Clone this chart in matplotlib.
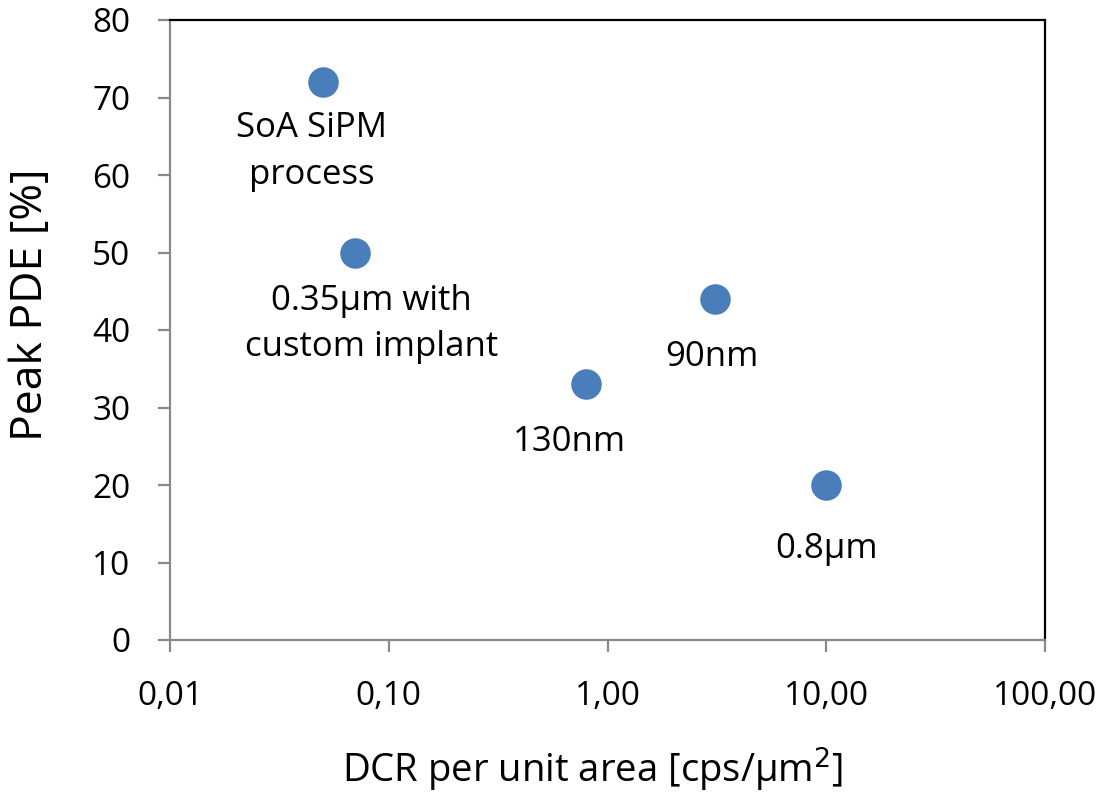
import numpy as np
import matplotlib
matplotlib.use('Agg')
import matplotlib.pyplot as plt
from matplotlib.ticker import FixedLocator, FixedFormatter, NullLocator

plt.rcParams['font.family'] = ['Open Sans', 'DejaVu Sans']

# data
dcr = [0.05, 0.07, 0.8, 3.1, 10.0]
pde = [72, 50, 33, 44, 20]
names = ['SoA SiPM\nprocess', '0.35\u00b5m with\ncustom implant', '130nm', '90nm', '0.8\u00b5m']
# label offsets in pixels (dx, dy) from each point
offsets = [(-11, -29), (17, -31), (-17, -41), (-3, -41), (0, -47)]

x_ticks = [0.01, 0.1, 1, 10, 100]
x_ticklabels = ['0,01', '0,10', '1,00', '10,00', '100,00']
y_ticks = list(range(0, 81, 10))

fig = plt.figure(figsize=(11.06, 7.94), dpi=100)
ax = fig.add_axes([170 / 1106, 1 - 640 / 794, 875 / 1106, 620 / 794])

ax.plot(dcr, pde, 'o', color='#4a7ebb', markersize=22, markeredgewidth=0, zorder=3)

for x, y, t, (dx, dy) in zip(dcr, pde, names, offsets):
    ax.annotate(t, (x, y), xytext=(dx, dy), textcoords='offset pixels',
                ha='center', va='top', fontsize=25, linespacing=1.5)

ax.set_xscale('log')
ax.set_xlim(0.01, 100)
ax.set_ylim(0, 80)
ax.xaxis.set_major_locator(FixedLocator(x_ticks))
ax.xaxis.set_major_formatter(FixedFormatter(x_ticklabels))
ax.xaxis.set_minor_locator(NullLocator())
ax.set_yticks(y_ticks)

for s in ['left', 'bottom']:
    ax.spines[s].set_color('#898989')
    ax.spines[s].set_linewidth(1.6)
for s in ['top', 'right']:
    ax.spines[s].set_color('black')
    ax.spines[s].set_linewidth(1.6)

ax.tick_params(axis='both', direction='out', length=8.6, width=1.6, color='#898989',
               labelsize=24, pad=20)

ax.set_xlabel('DCR per unit area [cps/\u00b5m$^2$]', fontsize=27.5, va='center')
ax.xaxis.set_label_coords((592 - 170) / 875, (640 - 770) / 620)
ax.set_ylabel('Peak PDE [%]', fontsize=32, va='center')
ax.yaxis.set_label_coords((31 - 170) / 875, (640 - 305) / 620)

fig.savefig('out.png', dpi=100)
